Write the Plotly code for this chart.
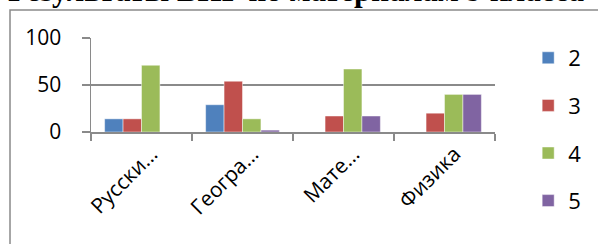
import plotly.graph_objects as go

# ---- data ----
categories = ["Русски…", "Геогра…", "Мате…", "Физика"]
series_names = ["2", "3", "4", "5"]
grade_2 = [14, 29, 0, 0]
grade_3 = [14, 54, 17, 20]
grade_4 = [71, 14, 67, 40]
grade_5 = [0, 2, 17, 40]
y_ticks = [0, 50, 100]
title_text = "Результаты ВПР по материалам 9 класса"

series_values = [grade_2, grade_3, grade_4, grade_5]
colors = ["#4F81BD", "#C0504D", "#9BBB59", "#8064A2"]

W, H = 598, 244
L, R, T, B = 91, 93, 38, 112
pw, ph = W - L - R, H - T - B

def px_x(p):
    return (p - L) / pw

def px_y(p):
    return 1 + (T - p) / ph

fig = go.Figure()
for name, vals, col in zip(series_names, series_values, colors):
    fig.add_trace(go.Bar(
        x=categories, y=vals, name=name,
        marker=dict(color=col, line=dict(color="rgba(255,255,255,0.45)", width=1)),
        legendgroup=name,
    ))

grey = "#8a8a8a"
font_main = "Open Sans"

fig.update_layout(
    width=W, height=H,
    margin=dict(l=L, r=R, t=T, b=B, pad=0),
    paper_bgcolor="white", plot_bgcolor="white",
    barmode="group", bargap=0.27, bargroupgap=0,
    font=dict(family=font_main, size=20, color="black"),
    showlegend=True,
    legend=dict(
        x=px_x(539), y=px_y(37), xanchor="left", yanchor="top",
        traceorder="grouped", tracegroupgap=16, maxheight=600,
        font=dict(family=font_main, size=22, color="black"),
        bgcolor="rgba(0,0,0,0)", borderwidth=0,
    ),
    xaxis=dict(
        type="category", tickangle=-45, ticks="outside", tickson="boundaries",
        ticklen=7, tickcolor=grey, tickwidth=1.5,
        showline=True, linecolor=grey, linewidth=1.5, showgrid=False,
        tickfont=dict(family=font_main, size=21, color="black"),
        ticklabelshift=10,
        automargin=False,
    ),
    yaxis=dict(
        range=[0, 100], tickvals=y_ticks, ticktext=[str(v) for v in y_ticks],
        showgrid=True, gridcolor=grey, gridwidth=1.5,
        ticks="outside", ticklen=8, tickcolor=grey, tickwidth=1.5,
        showline=True, linecolor=grey, linewidth=1.5, zeroline=False,
        ticklabelstandoff=16,
        tickfont=dict(family=font_main, size=21, color="black"),
        automargin=False,
    ),
    shapes=[dict(
        type="rect", xref="paper", yref="paper",
        x0=px_x(8), x1=px_x(700), y0=px_y(400), y1=px_y(10),
        line=dict(color=grey, width=1.5), fillcolor="rgba(0,0,0,0)",
        layer="below",
    )],
    annotations=[dict(
        text="<b>" + title_text + "</b>", xref="paper", yref="paper",
        x=px_x(4), y=px_y(-9.5), xanchor="left", yanchor="middle",
        showarrow=False,
        font=dict(family="Liberation Serif", size=31, color="black"),
    )],
)

fig.write_html(
    "out.html",
    config={"displayModeBar": False, "staticPlot": True},
    post_script="document.body.style.margin='0';document.body.style.padding='0';",
)
